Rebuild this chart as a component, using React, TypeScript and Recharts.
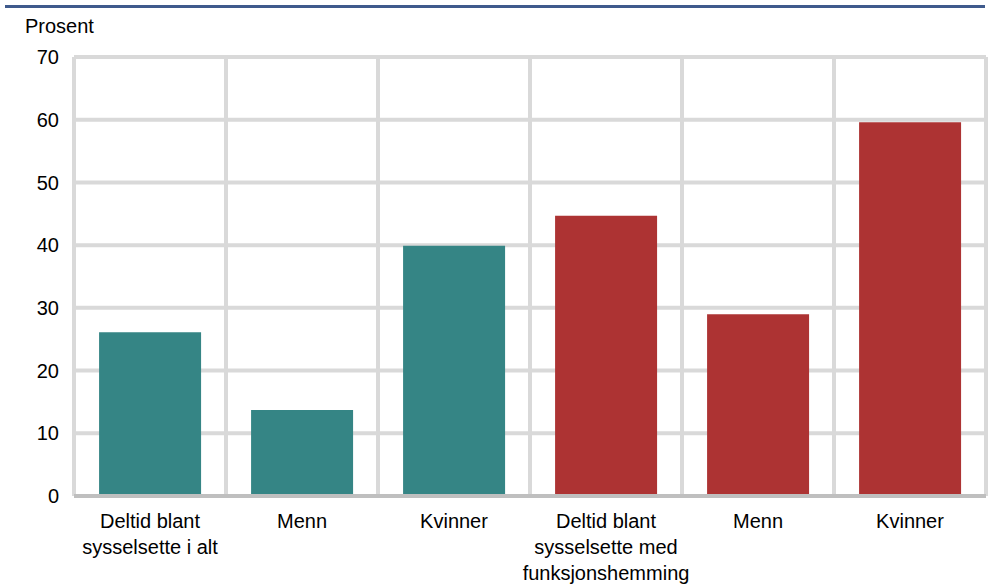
import React from "react";
import { BarChart, Bar, Cell, XAxis, YAxis, CartesianGrid } from "recharts";

const categories = [
  "Deltid blant\nsysselsette i alt",
  "Menn",
  "Kvinner",
  "Deltid blant\nsysselsette med\nfunksjonshemming",
  "Menn",
  "Kvinner",
];
const values = [26.1, 13.7, 39.9, 44.7, 29.0, 59.6];
const groups = ["alle", "alle", "alle", "funk", "funk", "funk"];
const yTicks = [0, 10, 20, 30, 40, 50, 60, 70];

const COLORS: Record<string, string> = {
  alle: "#358585",
  funk: "#ad3333",
};

const data = categories.map((c, i) => ({ key: i, label: c, value: values[i], group: groups[i] }));

const FONT = "'Liberation Sans', Arial, sans-serif";

function CategoryTick(props: any) {
  const { x, y, payload } = props;
  const lines = String(categories[payload.value]).split("\n");
  return (
    <text x={x} y={y} textAnchor="middle" fontSize={20} fill="#000" fontFamily={FONT}>
      {lines.map((line, i) => (
        <tspan key={i} x={x} dy={i === 0 ? 24 : 26}>
          {line}
        </tspan>
      ))}
    </text>
  );
}

export default function App() {
  return (
    <div style={{ position: "fixed", left: 0, top: 0, width: 988, height: 587, background: "#fff", fontFamily: FONT }}>
      <div style={{ position: "absolute", left: 5, top: 5, width: 980, height: 3, background: "#3f5a8c" }} />
      <div style={{ position: "absolute", left: 25, top: 15, fontSize: 20, color: "#000" }}>Prosent</div>
      <BarChart
        width={988}
        height={587}
        data={data}
        margin={{ top: 57, right: 2, bottom: 0, left: 1 }}
        barCategoryGap="16.5%"
      >
        <CartesianGrid
          stroke="#d9d9d9"
          strokeWidth={4}
          horizontal={true}
          vertical={true}
          verticalCoordinatesGenerator={({ offset }: any) =>
            categories.map((_, i) => offset.left + (i * offset.width) / categories.length).concat([offset.left + offset.width])
          }
        />
        <XAxis
          dataKey="key"
          tick={<CategoryTick />}
          tickLine={false}
          interval={0}
          stroke="#bfbfbf"
          strokeWidth={4}
          height={91}
        />
        <YAxis
          domain={[0, 70]}
          ticks={yTicks}
          width={73}
          axisLine={false}
          tickLine={false}
          tickSize={0}
          tickMargin={15}
          tick={{ fontSize: 20, fill: "#000", fontFamily: FONT }}
        />
        <Bar dataKey="value" isAnimationActive={false}>
          {data.map((d) => (
            <Cell key={d.key} fill={COLORS[d.group]} />
          ))}
        </Bar>
      </BarChart>
    </div>
  );
}
